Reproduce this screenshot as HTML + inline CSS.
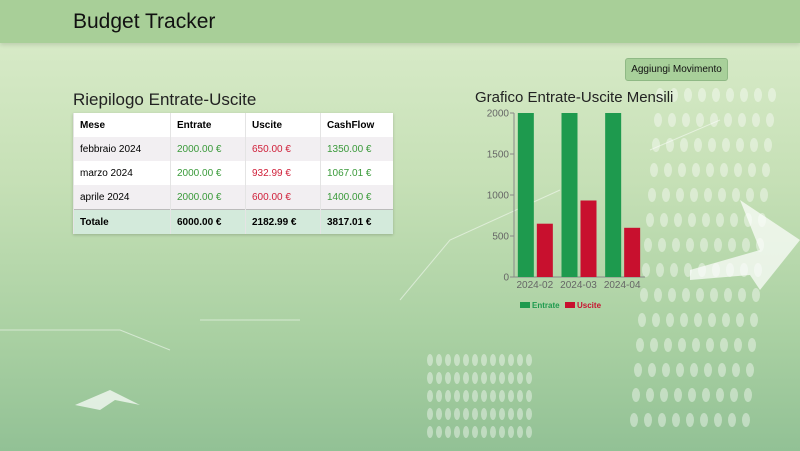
<!DOCTYPE html>
<html><head><meta charset="utf-8"><style>
body{margin:0;width:800px;height:451px;overflow:hidden;font-family:"Liberation Sans",sans-serif;position:relative;
background:linear-gradient(180deg,#dcedcc 0%,#c6e0b6 40%,#a9d0a2 75%,#92c195 100%);}
.hdr{position:absolute;left:0;top:0;width:800px;height:43px;background:#a8cf98;box-shadow:0 2px 4px rgba(0,0,0,.12)}
.hdr span{position:absolute;left:73px;top:10px;font-size:21px;color:#111}
h2{position:absolute;margin:0;font-weight:normal;font-size:17px;color:#222}
table{position:absolute;left:73px;top:113px;width:320px;border-collapse:collapse;font-size:10px;box-shadow:0 1px 3px rgba(0,0,0,.2)}
td{height:24px;padding:0 6px;border-left:1px solid #e4e4e4}
tr:nth-child(odd) td{background:#fff} tr:nth-child(even) td{background:#f2eff2}
tr.tot td{background:#d3eadb;font-weight:bold;border-top:1px solid #bbb}
th{height:24px;text-align:left;padding:0 6px;background:#fff;border-left:1px solid #e4e4e4}
.g{color:#3a9a3a}.r{color:#d0203a}
.btn{position:absolute;left:625px;top:58px;width:101px;height:21px;background:#a8d09a;border:1px solid #8fb985;border-radius:3px;font-size:10px;line-height:21px;text-align:center;color:#111}
</style></head><body>
<svg width="800" height="451" style="position:absolute;left:0;top:0">
<g fill="#fff" opacity="0.7">
<polygon points="690,270 760,250 740,200 800,240 760,290 750,275 690,280"/>
<polygon points="75,405 110,390 140,405 115,400 100,410"/>
</g>
<g fill="#fff" opacity="0.4" id="dots"></g>
<g stroke="#fff" opacity="0.5" fill="none"><path d="M0,330 L120,330 L170,350 M200,320 L300,320 M400,300 L450,240 L560,190 M650,150 L720,120"/></g>
</svg>
<div class="hdr"><span>Budget Tracker</span></div>
<div class="btn">Aggiungi Movimento</div>
<h2 style="left:73px;top:90px">Riepilogo Entrate-Uscite</h2>
<table>
<tr><th style="width:84px">Mese</th><th style="width:62px">Entrate</th><th style="width:62px">Uscite</th><th>CashFlow</th></tr>
<tr><td>febbraio 2024</td><td class="g">2000.00 €</td><td class="r">650.00 €</td><td class="g">1350.00 €</td></tr>
<tr><td>marzo 2024</td><td class="g">2000.00 €</td><td class="r">932.99 €</td><td class="g">1067.01 €</td></tr>
<tr><td>aprile 2024</td><td class="g">2000.00 €</td><td class="r">600.00 €</td><td class="g">1400.00 €</td></tr>
<tr class="tot"><td>Totale</td><td>6000.00 €</td><td>2182.99 €</td><td>3817.01 €</td></tr>
</table>
<h2 style="left:475px;top:89px;font-size:15px">Grafico Entrate-Uscite Mensili</h2>
<svg id="chart" width="800" height="451" style="position:absolute;left:0;top:0"></svg>
<script>
const categories=["2024-02","2024-03","2024-04"];
const entrate=[2000,2000,2000];
const uscite=[650,932.99,600];
const yTicks=[0,500,1000,1500,2000];
const ns="http://www.w3.org/2000/svg",svg=document.getElementById('chart');
const x0=514,x1=645,yb=277,yt=113,ymax=2000;
const y=v=>yb-(v/ymax)*(yb-yt);
const step=(x1-x0)/categories.length;
const cx=i=>x0+step*(i+0.5)-1;
function el(t,a,txt){const e=document.createElementNS(ns,t);for(const k in a)e.setAttribute(k,a[k]);if(txt!=null)e.textContent=txt;svg.appendChild(e);return e;}
let a=el('line',{x1:x0,y1:yt,x2:x0,y2:yb,stroke:'#888'});
a=el('line',{x1:x0,y1:yb,x2:x1,y2:yb,stroke:'#888'});
yTicks.forEach(v=>{const l=el('line',{x1:x0-4,y1:y(v),x2:x0,y2:y(v),stroke:'#888'});
const t=el('text',{x:x0-5,y:y(v)+3.5,'text-anchor':'end','font-size':10,fill:'#666'},v);});
categories.forEach((c,i)=>{
const b1=el('rect',{x:cx(i)-17,y:y(entrate[i]),width:16,height:yb-y(entrate[i]),fill:'#1e9a4e'});
const b2=el('rect',{x:cx(i)+2,y:y(uscite[i]),width:16,height:yb-y(uscite[i]),fill:'#c8102e'});
const t=el('text',{x:cx(i),y:yb+11,'text-anchor':'middle','font-size':10,fill:'#666'},c);});
let r=el('rect',{x:520,y:302,width:10,height:6,fill:'#1e9a4e'});
r=el('text',{x:532,y:308,'font-size':8,'font-weight':'bold',fill:'#1e9a4e'},'Entrate');
r=el('rect',{x:565,y:302,width:10,height:6,fill:'#c8102e'});
r=el('text',{x:577,y:308,'font-size':8,'font-weight':'bold',fill:'#c8102e'},'Uscite');
const dots=document.getElementById('dots');
for(let i=0;i<14;i++)for(let j=0;j<9;j++){const px=660+j*14-i*2,py=95+i*25;if(py>440)continue;
const e=document.createElementNS(ns,'ellipse');e.setAttribute('cx',px);e.setAttribute('cy',py);e.setAttribute('rx',4);e.setAttribute('ry',7);dots.appendChild(e);}
for(let i=0;i<5;i++)for(let j=0;j<12;j++){const e=document.createElementNS(ns,'ellipse');e.setAttribute('cx',430+j*9);e.setAttribute('cy',360+i*18);e.setAttribute('rx',3);e.setAttribute('ry',6);dots.appendChild(e);}
</script>
</body></html>
